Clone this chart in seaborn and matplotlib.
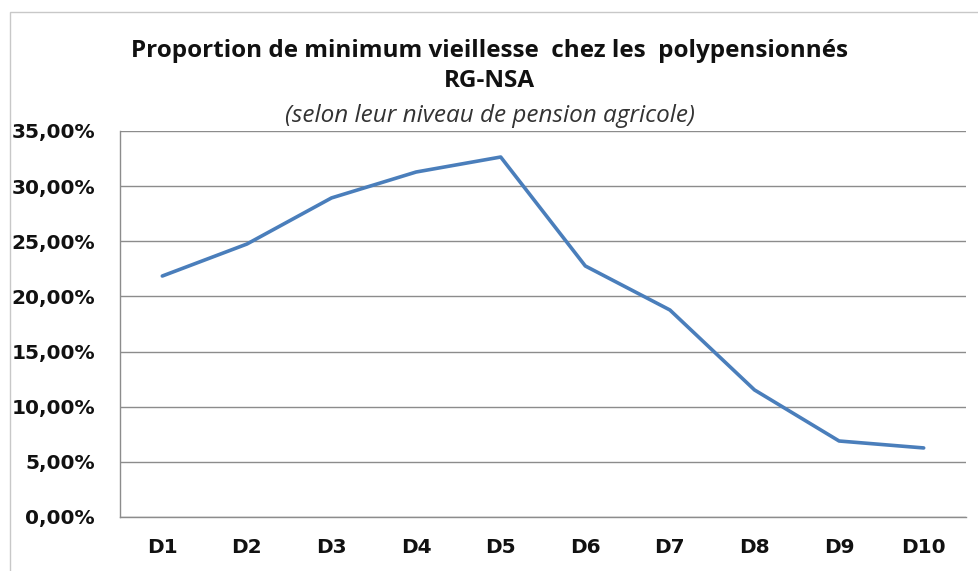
import numpy as np
import pandas as pd
import seaborn as sns
import matplotlib.pyplot as plt
from matplotlib.ticker import FuncFormatter, FixedLocator
from matplotlib.patches import Rectangle

# proportion de minimum vieillesse par décile de pension agricole
deciles = ["D1", "D2", "D3", "D4", "D5", "D6", "D7", "D8", "D9", "D10"]
proportion = [21.85, 24.75, 28.93, 31.28, 32.64, 22.76, 18.77, 11.52, 6.89, 6.26]

df = pd.DataFrame({"decile": deciles, "proportion": proportion})

sns.set_theme(style="white")
plt.rcParams['font.family'] = ['DejaVu Sans']

fig = plt.figure(figsize=(9.79, 5.71), dpi=100)
ax = fig.add_axes([0.1226, 0.0946, 0.8641, 0.676])

sns.lineplot(data=df, x="decile", y="proportion", ax=ax, color="#4a7ebb",
             linewidth=2.6, sort=False)

ax.set_ylim(0, 35)
ax.set_xlim(-0.5, 9.5)
ax.set_yticks(np.arange(0, 36, 5))
ax.yaxis.set_major_formatter(FuncFormatter(lambda v, p: f"{v:.2f}%".replace(".", ",")))
ax.yaxis.grid(True, color="#8c8c8c", linewidth=1.0)
ax.xaxis.grid(False)
ax.set_axisbelow(True)

ax.xaxis.set_minor_locator(FixedLocator(np.arange(-0.5, 10, 1)))
ax.tick_params(axis="x", which="major", length=0, pad=15, labelsize=14.5, colors="#111111")
ax.tick_params(axis="x", which="minor", length=7, width=1, color="#8c8c8c", direction="out")
ax.tick_params(axis="y", which="major", length=7, width=1, color="#8c8c8c", direction="out",
               labelsize=14.5, colors="#111111", pad=11)
ax.tick_params(axis="x", which="minor", colors="#8c8c8c")
for lab in ax.get_xticklabels():
    lab.set_fontweight("bold")
for lab in ax.get_yticklabels():
    lab.set_fontweight("bold")

for s in ["top", "right"]:
    ax.spines[s].set_visible(False)
for s in ["left", "bottom"]:
    ax.spines[s].set_color("#8c8c8c")
    ax.spines[s].set_linewidth(1.0)

ax.set_xlabel("")
ax.set_ylabel("")

fig.text(0.5, 1 - 51 / 571, "Proportion de minimum vieillesse  chez les  polypensionnés",
         ha="center", va="center", fontsize=17.5, fontweight="bold", family="Open Sans",
         color="#111111")
fig.text(0.5, 1 - 81 / 571, "RG-NSA", ha="center", va="center", fontsize=17.5,
         fontweight="bold", family="Open Sans", color="#111111")
fig.text(0.5, 1 - 116 / 571, "(selon leur niveau de pension agricole)", ha="center",
         va="center", fontsize=17.5, style="italic", family="Open Sans", color="#333333")

# cadre du graphique
fig.patches.append(Rectangle((10 / 979, -0.05), 1.1, 1 - 12 / 571 + 0.05,
                             transform=fig.transFigure, fill=False,
                             edgecolor="#c8c8c8", linewidth=1.0))

fig.savefig("out.png", dpi=100)
